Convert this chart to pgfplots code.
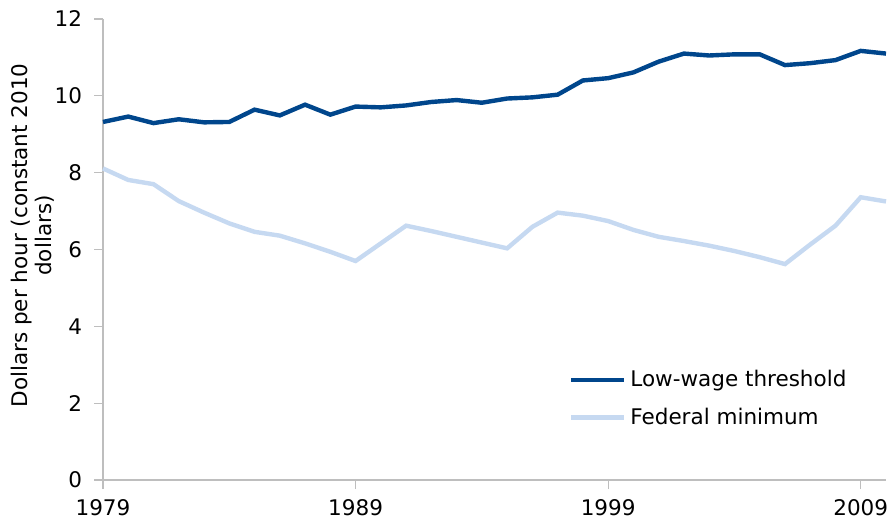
\documentclass[border=0pt]{standalone}
\usepackage{fontspec}
\setmainfont{DejaVu Sans}
\usepackage{pgfplots}
\pgfplotsset{compat=1.18}
\definecolor{lowwage}{RGB}{0,70,140}
\definecolor{fedmin}{RGB}{198,217,241}
\definecolor{axgray}{RGB}{190,190,190}
\begin{document}
\begin{tikzpicture}
\begin{axis}[
  scale only axis, width=391.5bp, height=230.5bp,
  xmin=1979, xmax=2010, ymin=0, ymax=12,
  axis x line*=bottom, axis y line*=left,
  axis line style={axgray, line width=0.6pt},
  xtick={1979,1989,1999,2009}, ytick={0,2,...,12},
  tick style={axgray, line width=0.6pt}, tick align=outside,
  major tick length=4.5bp,
  xticklabel style={/pgf/number format/1000 sep={}, yshift=-1.5bp},
  yticklabel style={xshift=-2.5bp},
  ticklabel style={font=\fontsize{10.8}{12}\selectfont},
  /pgf/number format/assume math mode=true,
  ylabel={Dollars per hour (constant 2010\\dollars)},
  ylabel style={font=\fontsize{10.8}{12}\selectfont, align=center, yshift=-6.5bp, xshift=7bp},
  legend style={at={(0.587,0.256)}, anchor=north west, draw=none, fill=none,
    font=\fontsize{10.8}{12}\selectfont, row sep=5bp,
    /tikz/every even column/.append style={column sep=0.5bp}},
  legend cell align=left,
  legend image code/.code={\draw[#1] (0bp,0bp) -- (26.5bp,0bp);},
  clip=false,
]
\addplot[lowwage, line width=2.2bp] coordinates {
(1979,9.32)(1980,9.46)(1981,9.29)(1982,9.39)(1983,9.31)(1984,9.32)
(1985,9.64)(1986,9.49)(1987,9.77)(1988,9.51)(1989,9.72)(1990,9.70)
(1991,9.75)(1992,9.84)(1993,9.89)(1994,9.82)(1995,9.93)(1996,9.96)
(1997,10.03)(1998,10.40)(1999,10.46)(2000,10.61)(2001,10.89)(2002,11.10)
(2003,11.05)(2004,11.08)(2005,11.08)(2006,10.80)(2007,10.85)(2008,10.93)
(2009,11.17)(2010,11.10)};
\addlegendentry{Low-wage threshold}
\addplot[fedmin, line width=2.2bp] coordinates {
(1979,8.11)(1980,7.81)(1981,7.70)(1982,7.26)(1983,6.96)(1984,6.68)
(1985,6.46)(1986,6.36)(1987,6.16)(1988,5.94)(1989,5.70)(1990,6.16)
(1991,6.62)(1992,6.48)(1993,6.33)(1994,6.18)(1995,6.03)(1996,6.59)
(1997,6.96)(1998,6.88)(1999,6.74)(2000,6.51)(2001,6.33)(2002,6.22)
(2003,6.10)(2004,5.96)(2005,5.80)(2006,5.62)(2007,6.13)(2008,6.62)
(2009,7.36)(2010,7.25)};
\addlegendentry{Federal minimum}
\coordinate (ll) at (rel axis cs:0,0);
\coordinate (ur) at (rel axis cs:1,1);
\end{axis}
\pgfresetboundingbox
\path ([shift={(-51.5bp,-21bp)}]ll) rectangle ([shift={(1bp,9.5bp)}]ur);
\end{tikzpicture}
\end{document}
